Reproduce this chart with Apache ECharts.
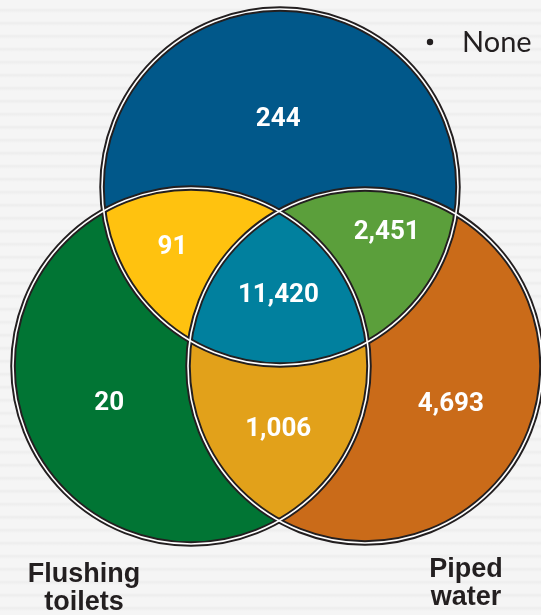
<!DOCTYPE html>
<html>
<head>
<meta charset="utf-8">
<script src="https://cdn.jsdelivr.net/npm/echarts@6/dist/echarts.min.js"></script>
<style>
  html, body {
    margin: 0;
    padding: 0;
  }
  body {
    background: repeating-linear-gradient(to bottom, #f5f5f5 0px, #f5f5f5 8px, #ededed 10px, #f5f5f5 13px);
  }
  #chart {
    width: 541px;
    height: 615px;
  }
</style>
</head>
<body>
<div id="chart"></div>
<script>
// sets: top, left (Flushing toilets), right (Piped water)
const setNames = ['None', 'Flushing\ntoilets', 'Piped\nwater'];
// each region lists which sets it belongs to
const regionSets = [[0], [1], [2], [0, 1], [0, 2], [1, 2], [0, 1, 2]];
const regionValues = [244, 20, 4693, 91, 2451, 1006, 11420];

// layout of the (non proportional) venn, in page pixels
const circles = [
  { cx: 280, cy: 187, r: 178 },
  { cx: 191, cy: 366, r: 178 },
  { cx: 365, cy: 366, r: 177 }
];
const regionColors = ['#01588a', '#017534', '#ca6b19', '#ffc20f', '#5b9f3b', '#e2a11a', '#01809e'];
// small nudges of the value labels (px)
const labelNudge = [[-2, 8], [-1, 9], [5, 9], [-2, 3], [2, -14], [0, 3], [0, -4]];

function inside(p, k) {
  const c = circles[k];
  return Math.hypot(p[0] - c.cx, p[1] - c.cy) < c.r;
}

// the two crossing points of circles a and b, split by circle k
function meet(a, b, k) {
  const A = circles[a], B = circles[b];
  const dx = B.cx - A.cx, dy = B.cy - A.cy, d = Math.hypot(dx, dy);
  const l = (A.r * A.r - B.r * B.r + d * d) / (2 * d);
  const h = Math.sqrt(A.r * A.r - l * l);
  const mx = A.cx + dx * l / d, my = A.cy + dy * l / d;
  const p1 = [mx - dy * h / d, my + dx * h / d];
  const p2 = [mx + dy * h / d, my - dx * h / d];
  return inside(p1, k) ? { i: p1, o: p2 } : { i: p2, o: p1 };
}

const TL = meet(0, 1, 2), TR = meet(0, 2, 1), LR = meet(1, 2, 0);

// points along circle k from p to q, taking the side that matches mask
function arc(k, p, q, mask) {
  const c = circles[k];
  const a0 = Math.atan2(p[1] - c.cy, p[0] - c.cx);
  const a1 = Math.atan2(q[1] - c.cy, q[0] - c.cx);
  let d = a1 - a0;
  while (d < 0) d += 2 * Math.PI;
  const ok = function (delta) {
    const am = a0 + delta / 2;
    const m = [c.cx + c.r * Math.cos(am), c.cy + c.r * Math.sin(am)];
    return [0, 1, 2].every(j => j === k || inside(m, j) === mask[j]);
  };
  if (!ok(d)) d -= 2 * Math.PI;
  const n = Math.max(8, Math.ceil(Math.abs(d) * c.r / 2));
  const pts = [];
  for (let s = 0; s <= n; s++) {
    const a = a0 + d * s / n;
    pts.push([c.cx + c.r * Math.cos(a), c.cy + c.r * Math.sin(a)]);
  }
  return pts;
}

const regionEdges = [
  [[1, TL.o, LR.i], [2, LR.i, TR.o], [0, TR.o, TL.o]],
  [[0, TL.o, TR.i], [2, TR.i, LR.o], [1, LR.o, TL.o]],
  [[0, TR.o, TL.i], [1, TL.i, LR.o], [2, LR.o, TR.o]],
  [[1, TL.o, LR.i], [2, LR.i, TR.i], [0, TR.i, TL.o]],
  [[2, TR.o, LR.i], [1, LR.i, TL.i], [0, TL.i, TR.o]],
  [[0, TR.i, TL.i], [1, TL.i, LR.o], [2, LR.o, TR.i]],
  [[1, LR.i, TL.i], [0, TL.i, TR.i], [2, TR.i, LR.i]]
];

const regionPolys = regionEdges.map(function (edges, idx) {
  const mask = [0, 1, 2].map(j => regionSets[idx].indexOf(j) >= 0);
  let pts = [];
  edges.forEach(function (e) {
    pts = pts.concat(arc(e[0], e[1], e[2], mask));
  });
  return pts;
});

// label anchor: between region centroid and its most open point
function labelSpots() {
  const acc = regionSets.map(() => ({ sx: 0, sy: 0, n: 0, best: -1, bx: 0, by: 0 }));
  for (let x = 0; x <= 541; x += 2) {
    for (let y = 0; y <= 615; y += 2) {
      const p = [x, y];
      const ins = [0, 1, 2].filter(j => inside(p, j));
      if (!ins.length) continue;
      const idx = regionSets.findIndex(s => s.join() === ins.join());
      const clear = Math.min.apply(null, circles.map(c => Math.abs(Math.hypot(x - c.cx, y - c.cy) - c.r)));
      const a = acc[idx];
      a.sx += x; a.sy += y; a.n++;
      if (clear > a.best) { a.best = clear; a.bx = x; a.by = y; }
    }
  }
  return acc.map(a => [(a.sx / a.n + a.bx) / 2, (a.sy / a.n + a.by) / 2]);
}
const spots = labelSpots();

const chart = echarts.init(document.getElementById('chart'));

const textColor = '#231f20';
const setFont = 'bold 27px "Liberation Sans"';

chart.setOption({
  animation: false,
  backgroundColor: 'transparent',
  grid: { left: 0, right: 0, top: 0, bottom: 0 },
  xAxis: { type: 'value', min: 0, max: 541, show: false },
  yAxis: { type: 'value', min: 0, max: 615, inverse: true, show: false },
  graphic: [
    {
      type: 'circle',
      shape: { cx: 430, cy: 42, r: 3.2 },
      style: { fill: textColor }
    },
    {
      type: 'text',
      x: 462,
      y: 43,
      style: { text: setNames[0], fill: textColor, font: '29px Lato', align: 'left', verticalAlign: 'middle' }
    },
    {
      type: 'text',
      x: 84,
      y: 561,
      style: { text: setNames[1], fill: textColor, font: setFont, align: 'center', verticalAlign: 'top', lineHeight: 28 }
    },
    {
      type: 'text',
      x: 466,
      y: 556,
      style: { text: setNames[2], fill: textColor, font: setFont, align: 'center', verticalAlign: 'top', lineHeight: 28 }
    }
  ],
  series: [
    {
      type: 'custom',
      silent: true,
      data: regionValues.map((v, i) => [i, v]),
      renderItem: function (params, api) {
        const idx = params.dataIndex;
        return {
          type: 'polygon',
          shape: { points: regionPolys[idx].map(p => api.coord(p)) },
          style: { fill: regionColors[idx], stroke: regionColors[idx], lineWidth: 0.5 }
        };
      },
      z: 1
    },
    {
      type: 'custom',
      silent: true,
      data: circles.map((c, i) => [i]),
      renderItem: function (params, api) {
        const c = circles[params.dataIndex];
        const p = api.coord([c.cx, c.cy]);
        return {
          type: 'circle',
          shape: { cx: p[0], cy: p[1], r: api.size([c.r, 0])[0] },
          style: { fill: 'none', stroke: '#231f20', lineWidth: 5.5 }
        };
      },
      z: 2
    },
    {
      type: 'custom',
      silent: true,
      data: circles.map((c, i) => [i]),
      renderItem: function (params, api) {
        const c = circles[params.dataIndex];
        const p = api.coord([c.cx, c.cy]);
        return {
          type: 'circle',
          shape: { cx: p[0], cy: p[1], r: api.size([c.r, 0])[0] },
          style: { fill: 'none', stroke: '#ffffff', lineWidth: 1.6 }
        };
      },
      z: 3
    },
    {
      type: 'scatter',
      silent: true,
      symbolSize: 0,
      itemStyle: { opacity: 1 },
      data: regionValues.map((v, i) => ({
        value: [spots[i][0], spots[i][1], v],
        label: { offset: labelNudge[i] }
      })),
      label: {
        show: true,
        position: 'inside',
        color: '#ffffff',
        opacity: 1,
        textBorderWidth: 0,
        fontFamily: 'Roboto',
        fontWeight: 'bold',
        fontSize: 26,
        formatter: function (p) {
          return p.value[2].toLocaleString('en-US');
        }
      },
      z: 4
    }
  ]
});
</script>
</body>
</html>
